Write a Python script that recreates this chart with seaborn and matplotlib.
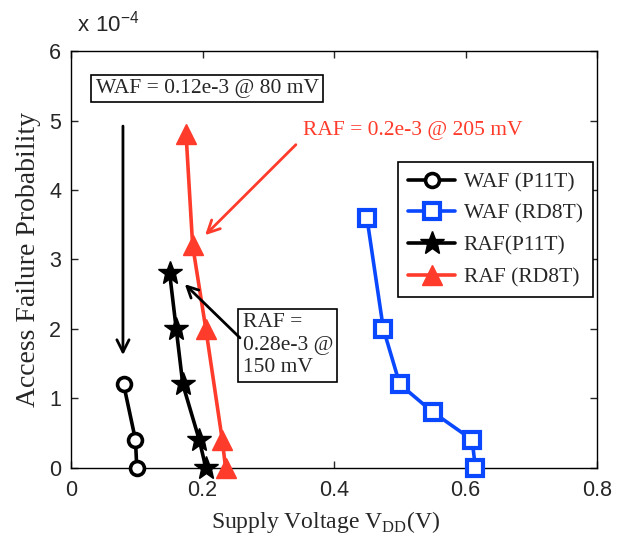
import matplotlib
matplotlib.use("Agg")
import matplotlib.pyplot as plt
import seaborn as sns
import pandas as pd

# Access failure probability versus supply voltage for the two bit-cells
waf_p11t_v = [0.08, 0.098, 0.10]
waf_p11t_p = [1.2e-4, 0.4e-4, 0.0]

waf_rd8t_v = [0.45, 0.475, 0.50, 0.55, 0.61, 0.615]
waf_rd8t_p = [3.6e-4, 2.0e-4, 1.2e-4, 0.8e-4, 0.4e-4, 0.0]

raf_p11t_v = [0.15, 0.16, 0.17, 0.195, 0.205]
raf_p11t_p = [2.8e-4, 2.0e-4, 1.2e-4, 0.4e-4, 0.0]

raf_rd8t_v = [0.175, 0.185, 0.205, 0.23, 0.235]
raf_rd8t_p = [4.8e-4, 3.2e-4, 2.0e-4, 0.4e-4, 0.0]

series_names = ["WAF (P11T)", "WAF (RD8T)", "RAF(P11T)", "RAF (RD8T)"]
x_ticks = [0, 0.2, 0.4, 0.6, 0.8]
y_ticks = [0, 1e-4, 2e-4, 3e-4, 4e-4, 5e-4, 6e-4]

BLUE = "#0a48ff"
RED = "#ff3b2b"
SERIF = "Liberation Serif"
SANS = "Liberation Sans"

sns.set_style("ticks")
plt.rcParams["font.family"] = [SANS, "DejaVu Sans"]
plt.rcParams["mathtext.fontset"] = "custom"
plt.rcParams["mathtext.rm"] = SERIF
plt.rcParams["mathtext.sf"] = SANS
plt.rcParams["axes.linewidth"] = 1.0

fig = plt.figure(figsize=(6.17, 5.38), dpi=100)
ax = fig.add_axes([0.1151, 0.131, 0.8525, 0.774])

styles = [
    (waf_p11t_v, waf_p11t_p, dict(color="black", marker="o", markersize=10,
                                  markerfacecolor="white", markeredgecolor="black",
                                  markeredgewidth=2.6)),
    (waf_rd8t_v, waf_rd8t_p, dict(color=BLUE, marker="s", markersize=11,
                                  markerfacecolor="white", markeredgecolor=BLUE,
                                  markeredgewidth=3.0)),
    (raf_p11t_v, raf_p11t_p, dict(color="black", marker="*", markersize=18,
                                  markerfacecolor="black", markeredgecolor="black",
                                  markeredgewidth=1.0)),
    (raf_rd8t_v, raf_rd8t_p, dict(color=RED, marker="^", markersize=15,
                                  markerfacecolor=RED, markeredgecolor=RED,
                                  markeredgewidth=1.0)),
]

for name, (xs, ys, kw) in zip(series_names, styles):
    df = pd.DataFrame({"v": xs, "p": ys})
    sns.lineplot(data=df, x="v", y="p", ax=ax, sort=False, estimator=None,
                 linewidth=2.6, clip_on=False, label=name, zorder=3, **kw)

ax.set_xlim(0, 0.8)
ax.set_ylim(0, 6e-4)
ax.set_xticks(x_ticks)
ax.set_yticks(y_ticks)
ax.set_xticklabels(["0", "0.2", "0.4", "0.6", "0.8"])
ax.set_yticklabels([f"{t * 1e4:g}" for t in y_ticks])
ax.tick_params(direction="in", length=5, width=1, top=True, right=True,
               labelsize=15.5)
ax.tick_params(axis="x", pad=9)
ax.tick_params(axis="y", pad=7)
for s in ax.spines.values():
    s.set_visible(True)
    s.set_color("black")

ax.text(0.012, 1.035, r"$\mathsf{x\ 10^{-4}}$", transform=ax.transAxes,
        fontsize=16, ha="left", va="bottom")

ax.set_xlabel(r"Supply Voltage V$_{\mathrm{DD}}$(V)", fontfamily=SERIF,
              fontsize=17)
ax.xaxis.set_label_coords(0.485, -0.13, transform=ax.transAxes)
ax.xaxis.label.set_va("center")
ax.set_ylabel("Access Failure Probability", fontfamily=SERIF, fontsize=20,
              labelpad=6)

box = dict(boxstyle="square,pad=0.2", facecolor="white", edgecolor="black",
           linewidth=1.2)

# write-failure note with a vertical arrow
ax.text(0.207, 5.46e-4, "WAF = 0.12e-3 @ 80 mV", fontfamily=SERIF,
        fontsize=15.5, ha="center", va="center", bbox=box)
ax.annotate("", xy=(0.079, 1.58e-4), xytext=(0.079, 4.96e-4),
            arrowprops=dict(arrowstyle="->", color="black", lw=2,
                            mutation_scale=22))

# read-failure note for RD8T
ax.text(0.519, 4.86e-4, "RAF = 0.2e-3 @ 205 mV", fontfamily=SERIF,
        fontsize=15.5, ha="center", va="center", color=RED)
ax.annotate("", xy=(0.201, 3.32e-4), xytext=(0.345, 4.68e-4),
            arrowprops=dict(arrowstyle="->", color=RED, lw=2,
                            mutation_scale=22))

# read-failure note for P11T
ax.text(0.33, 1.76e-4, "RAF =\n0.28e-3 @\n150 mV", fontfamily=SERIF,
        fontsize=15.5, ha="center", va="center", multialignment="left",
        linespacing=1.25, bbox=box)
ax.annotate("", xy=(0.170, 2.67e-4), xytext=(0.26, 1.84e-4),
            arrowprops=dict(arrowstyle="->", color="black", lw=2,
                            mutation_scale=20))

leg = ax.legend(loc="upper left", bbox_to_anchor=(0.622, 0.733),
                prop={"family": SERIF, "size": 15.5}, frameon=True,
                fancybox=False, framealpha=1, edgecolor="black",
                handlelength=2.2, handletextpad=0.4, labelspacing=0.55,
                borderpad=0.45, borderaxespad=0)
leg.get_frame().set_linewidth(1.2)
leg.set_zorder(5)

fig.savefig("out.png", dpi=100)
